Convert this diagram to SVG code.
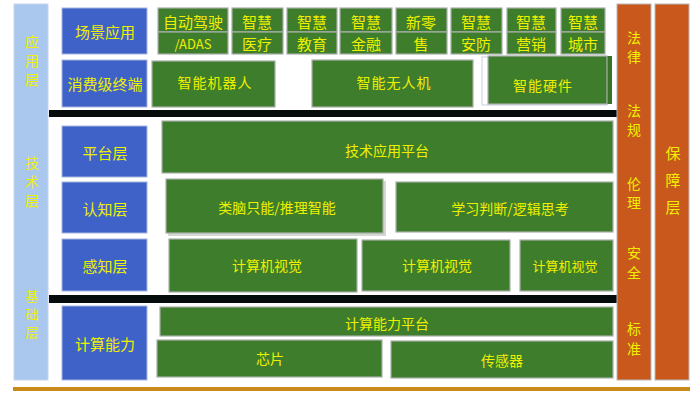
<svg xmlns="http://www.w3.org/2000/svg" width="700" height="400" viewBox="0 0 700 400">
<style>
.t{font-family:"Noto Sans CJK SC","Liberation Sans",sans-serif;fill:#eef000;text-anchor:middle;dominant-baseline:central}
.bl{fill:#3f62c9;stroke:#a5b6e0;stroke-width:1}
.gr{fill:#3e7d2c;stroke:#a9b0a9;stroke-width:1.2}
.lb{fill:#aac7ee;stroke:#c4d6ee;stroke-width:1}
.or{fill:#c8581b;stroke:#b8b8b8;stroke-width:1}
.bar{fill:#060c0c}
.sh{fill:#b9bdb9;opacity:0.6}
.f15{font-size:15px}
.f14{font-size:14px}
.f13{font-size:13px}
.v{font-size:14px}
.vs{font-size:13px}
</style>
<rect width="700" height="400" fill="#ffffff"/>

<g id="side-left">
<rect class="lb" x="14" y="4" width="34" height="376"/>
<text class="t v" x="32" y="41">应</text><text class="t v" x="32" y="60">用</text><text class="t v" x="32" y="79">层</text>
<text class="t v" x="32" y="162">技</text><text class="t v" x="32" y="181">术</text><text class="t v" x="32" y="200">层</text>
<text class="t vs" x="32" y="295">基</text><text class="t vs" x="32" y="313">础</text><text class="t vs" x="32" y="331">层</text>
</g>

<g id="bars">
<rect class="bar" x="49" y="110" width="568" height="7"/>
<rect class="bar" x="49" y="295" width="568" height="8"/>
<rect x="13" y="387" width="677" height="4" fill="#c98a1c"/>
</g>

<g id="side-right-1">
<rect class="or" x="617" y="4" width="34" height="376"/>
<text class="t v" x="634" y="37">法</text><text class="t v" x="634" y="56">律</text>
<text class="t v" x="634" y="110">法</text><text class="t v" x="634" y="129">规</text>
<text class="t v" x="634" y="183">伦</text><text class="t v" x="634" y="202">理</text>
<text class="t v" x="634" y="252">安</text><text class="t v" x="634" y="272">全</text>
<text class="t v" x="634" y="328">标</text><text class="t v" x="634" y="348">准</text>
</g>
<g id="side-right-2">
<rect class="or" x="655" y="4" width="34" height="376"/>
<text class="t f15" x="673" y="152">保</text><text class="t f15" x="673" y="179">障</text><text class="t f15" x="673" y="206">层</text>
</g>

<g id="label-scene"><rect class="bl" x="62" y="8" width="85" height="46"/><text class="t f15" x="105" y="31">场景应用</text></g>
<g id="label-consumer"><rect class="bl" x="62" y="60" width="85" height="47"/><text class="t f15" x="105" y="83">消费级终端</text></g>
<g id="label-platform"><rect class="bl" x="62" y="126" width="85" height="51"/><text class="t f15" x="105" y="152">平台层</text></g>
<g id="label-cognition"><rect class="bl" x="62" y="182" width="85" height="51"/><text class="t f15" x="105" y="208">认知层</text></g>
<g id="label-perception"><rect class="bl" x="62" y="239" width="85" height="52"/><text class="t f15" x="105" y="265">感知层</text></g>
<g id="label-compute"><rect class="bl" x="62" y="306" width="85" height="74"/><text class="t f15" x="105" y="343">计算能力</text></g>

<g id="app-drive"><rect class="gr" x="158" y="8" width="70" height="24"/><rect class="gr" x="158" y="32" width="70" height="22"/><text class="t f15" x="193" y="21">自动驾驶</text><text class="t f13" x="193" y="43">/ADAS</text></g>
<g id="app-medical"><rect class="gr" x="232" y="8" width="51" height="24"/><rect class="gr" x="232" y="32" width="51" height="22"/><text class="t f15" x="257" y="21">智慧</text><text class="t f15" x="257" y="43">医疗</text></g>
<g id="app-edu"><rect class="gr" x="287" y="8" width="50" height="24"/><rect class="gr" x="287" y="32" width="50" height="22"/><text class="t f15" x="312" y="21">智慧</text><text class="t f15" x="312" y="43">教育</text></g>
<g id="app-finance"><rect class="gr" x="340" y="8" width="52" height="24"/><rect class="gr" x="340" y="32" width="52" height="22"/><text class="t f15" x="366" y="21">智慧</text><text class="t f15" x="366" y="43">金融</text></g>
<g id="app-retail"><rect class="gr" x="396" y="8" width="51" height="24"/><rect class="gr" x="396" y="32" width="51" height="22"/><text class="t f15" x="421" y="21">新零</text><text class="t f15" x="421" y="43">售</text></g>
<g id="app-security"><rect class="gr" x="451" y="8" width="51" height="24"/><rect class="gr" x="451" y="32" width="51" height="22"/><text class="t f15" x="476" y="21">智慧</text><text class="t f15" x="476" y="43">安防</text></g>
<g id="app-marketing"><rect class="gr" x="507" y="8" width="49" height="24"/><rect class="gr" x="507" y="32" width="49" height="22"/><text class="t f15" x="531" y="21">智慧</text><text class="t f15" x="531" y="43">营销</text></g>
<g id="app-city"><rect class="gr" x="561" y="8" width="44" height="24"/><rect class="gr" x="561" y="32" width="44" height="22"/><text class="t f15" x="583" y="21">智慧</text><text class="t f15" x="583" y="43">城市</text></g>

<g id="robot"><rect class="gr" x="152" y="61" width="123" height="46"/><text class="t f14" x="215" y="82" letter-spacing="1">智能机器人</text></g>
<g id="drone"><rect class="gr" x="312" y="60" width="161" height="47"/><text class="t f14" x="394" y="82" letter-spacing="1">智能无人机</text></g>
<g id="hardware"><rect x="482" y="57" width="125" height="48" fill="none" stroke="#c8cce0" stroke-width="1"/><rect x="605" y="56" width="7" height="48" fill="#3a7228"/><rect class="gr" x="488" y="56" width="119" height="48"/><text class="t f14" x="543" y="85" letter-spacing="1">智能硬件</text></g>

<g id="tech-platform"><rect class="gr" x="162" y="121" width="451" height="52"/><text class="t f14" x="387" y="150">技术应用平台</text></g>
<g id="brain"><rect class="sh" x="168" y="181" width="218" height="55"/><rect class="gr" x="166" y="179" width="217" height="54"/><text class="t f14" x="277" y="207">类脑只能/推理智能</text></g>
<g id="learning"><rect class="gr" x="396" y="182" width="217" height="50"/><text class="t f14" x="510" y="208">学习判断/逻辑思考</text></g>
<g id="cv1"><rect class="gr" x="169" y="239" width="188" height="53"/><text class="t f14" x="267" y="265">计算机视觉</text></g>
<g id="cv2"><rect class="gr" x="362" y="240" width="148" height="51"/><text class="t f14" x="437" y="265">计算机视觉</text></g>
<g id="cv3"><rect class="gr" x="520" y="240" width="93" height="51"/><text class="t f13" x="565" y="265">计算机视觉</text></g>

<g id="compute-platform"><rect class="gr" x="160" y="307" width="453" height="29"/><text class="t f14" x="387" y="323">计算能力平台</text></g>
<g id="chip"><rect class="gr" x="157" y="340" width="225" height="37"/><text class="t f14" x="270" y="358">芯片</text></g>
<g id="sensor"><rect class="gr" x="391" y="341" width="222" height="37"/><text class="t f14" x="502" y="360">传感器</text></g>
</svg>
